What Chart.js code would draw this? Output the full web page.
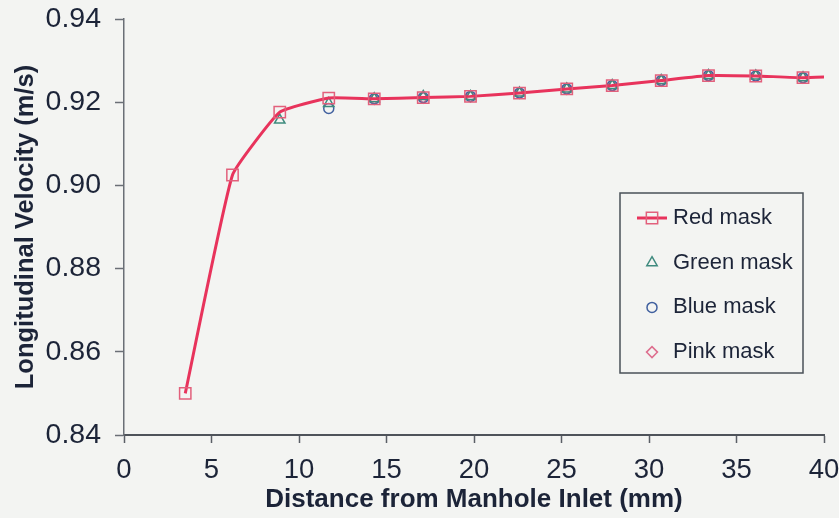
<!DOCTYPE html>
<html>
<head>
<meta charset="utf-8">
<title>Longitudinal velocity along the manhole</title>
<script src="https://cdn.jsdelivr.net/npm/chart.js@4.4.1/dist/chart.umd.min.js"></script>
<style>
    html, body { margin: 0; padding: 0; background: #f3f4f2; }
    #wrap { width: 839px; height: 518px; }
</style>
</head>
<body>
<div id="wrap"><canvas id="velocityChart" width="839" height="518"></canvas></div>
<script>
// distance from the manhole inlet (mm) for each measuring section
const distance = [3.5, 6.2, 8.9, 11.7, 14.3, 17.1, 19.8, 22.6, 25.3, 27.9, 30.7, 33.4, 36.1, 38.8, 41.5];

// longitudinal velocity (m/s) per mask colour
const redMask   = [0.8500, 0.9025, 0.9176, 0.9210, 0.9208, 0.9211, 0.9214, 0.9222, 0.9232, 0.9240, 0.9252, 0.9264, 0.9263, 0.9259, 0.9263];
const greenMask = [null, null, 0.9157, 0.9197, 0.9208, 0.9214, 0.9214, 0.9222, 0.9232, 0.9240, 0.9252, 0.9264, 0.9263, 0.9259, null];
const blueMask  = [null, null, null, 0.9185, 0.9208, 0.9211, 0.9214, 0.9222, 0.9232, 0.9240, 0.9252, 0.9264, 0.9263, 0.9259, null];
const pinkMask  = [null, null, null, null, 0.9208, 0.9211, 0.9214, 0.9222, 0.9232, 0.9240, 0.9252, 0.9264, 0.9263, 0.9259, null];

const seriesLabels = ['Red mask', 'Green mask', 'Blue mask', 'Pink mask'];
const xTicks = [0, 5, 10, 15, 20, 25, 30, 35, 40];
const yTicks = [0.84, 0.86, 0.88, 0.90, 0.92, 0.94];

const FONT = '"Liberation Sans", Arial, sans-serif';
const INK = '#1c2438';
const PAPER = '#f3f4f2';

function toPoints(values) {
    return distance.map((d, i) => ({ x: d, y: values[i] })).filter(p => p.y !== null);
}

// legend drawn as a framed box inside the plot area
const boxLegend = {
    id: 'boxLegend',
    afterDraw(chart, args, opts) {
        const ctx = chart.ctx;
        const area = chart.chartArea;
        const left = area.right - opts.right - opts.width;
        const top = area.top + opts.top;
        ctx.save();
        ctx.fillStyle = PAPER;
        ctx.fillRect(left, top, opts.width, opts.height);
        ctx.strokeStyle = '#4a5058';
        ctx.lineWidth = 1.5;
        ctx.strokeRect(left, top, opts.width, opts.height);

        chart.data.datasets.forEach((ds, i) => {
            const y = top + opts.firstRow + i * opts.rowGap;
            const sx = left + opts.symbolX;
            if (ds.showLine) {
                ctx.strokeStyle = ds.borderColor;
                ctx.lineWidth = ds.borderWidth;
                ctx.beginPath();
                ctx.moveTo(sx - 15, y);
                ctx.lineTo(sx + 15, y);
                ctx.stroke();
            }
            ctx.strokeStyle = ds.pointBorderColor;
            ctx.fillStyle = 'rgba(0,0,0,0)';
            ctx.lineWidth = ds.pointBorderWidth;
            Chart.helpers.drawPoint(ctx, {
                pointStyle: ds.pointStyle,
                radius: ds.pointRadius,
                borderWidth: ds.pointBorderWidth,
                rotation: 0
            }, sx, y);

            ctx.font = opts.fontSize + 'px ' + FONT;
            ctx.textBaseline = 'middle';
            ctx.textAlign = 'left';
            ctx.fillStyle = INK;
            ctx.fillText(ds.label, left + opts.textX, y);
        });
        ctx.restore();
    }
};

function renderChart() {
    const ctx = document.getElementById('velocityChart').getContext('2d');

    const datasets = [
        {
            label: seriesLabels[0],
            data: toPoints(redMask),
            showLine: true,
            borderColor: '#e8335c',
            borderWidth: 3,
            tension: 0.12,
            pointStyle: 'rect',
            pointRadius: 8,
            pointBorderWidth: 1.5,
            pointBorderColor: '#e2607c',
            pointBackgroundColor: 'rgba(0,0,0,0)'
        },
        {
            label: seriesLabels[1],
            data: toPoints(greenMask),
            showLine: false,
            pointStyle: 'triangle',
            pointRadius: 6,
            pointBorderWidth: 1.5,
            pointBorderColor: '#3e8a7e',
            pointBackgroundColor: 'rgba(0,0,0,0)'
        },
        {
            label: seriesLabels[2],
            data: toPoints(blueMask),
            showLine: false,
            pointStyle: 'circle',
            pointRadius: 5,
            pointBorderWidth: 1.5,
            pointBorderColor: '#40609f',
            pointBackgroundColor: 'rgba(0,0,0,0)'
        },
        {
            label: seriesLabels[3],
            data: toPoints(pinkMask),
            showLine: false,
            pointStyle: 'rectRot',
            pointRadius: 5.5,
            pointBorderWidth: 1.5,
            pointBorderColor: '#de6e8e',
            pointBackgroundColor: 'rgba(0,0,0,0)'
        }
    ];

    new Chart(ctx, {
        type: 'scatter',
        data: { datasets: datasets },
        plugins: [boxLegend],
        options: {
            responsive: false,
            animation: false,
            layout: { padding: { top: 19, right: 15, left: 0, bottom: 0 } },
            plugins: {
                legend: { display: false },
                tooltip: { enabled: false },
                boxLegend: {
                    right: 21, top: 174, width: 183, height: 180,
                    firstRow: 25, rowGap: 44.7, symbolX: 32, textX: 53, fontSize: 22
                }
            },
            scales: {
                x: {
                    type: 'linear',
                    min: 0,
                    max: 40,
                    afterFit: (scale) => {
                        scale.height = 83;
                        scale.paddingLeft = 0;
                        scale.paddingRight = 0;
                    },
                    afterBuildTicks: (scale) => { scale.ticks = xTicks.map(v => ({ value: v })); },
                    ticks: {
                        font: { family: FONT, size: 27.5 },
                        color: INK,
                        padding: 11,
                        maxRotation: 0
                    },
                    grid: {
                        drawOnChartArea: false,
                        tickLength: 8,
                        tickColor: '#5a5f66',
                        tickWidth: 1.5
                    },
                    border: { color: '#4e535a', width: 2 },
                    title: {
                        display: true,
                        text: 'Distance from Manhole Inlet (mm)',
                        font: { family: FONT, size: 26, weight: 'bold' },
                        color: INK,
                        padding: { top: 0, bottom: 3 }
                    }
                },
                y: {
                    type: 'linear',
                    min: 0.84,
                    max: 0.94,
                    afterFit: (scale) => {
                        scale.width = 124;
                        scale.paddingTop = 0;
                        scale.paddingBottom = 0;
                    },
                    afterBuildTicks: (scale) => { scale.ticks = yTicks.map(v => ({ value: v })); },
                    ticks: {
                        font: { family: FONT, size: 28.5 },
                        color: INK,
                        padding: 14,
                        callback: (v) => v.toFixed(2)
                    },
                    grid: {
                        drawOnChartArea: false,
                        tickLength: 9,
                        tickColor: '#6a6f76',
                        tickWidth: 1.5
                    },
                    border: { color: '#6a6f76', width: 1.5 },
                    title: {
                        display: true,
                        text: 'Longitudinal Velocity (m/s)',
                        font: { family: FONT, size: 25.5, weight: 'bold' },
                        color: INK,
                        padding: { top: 11, bottom: 0 }
                    }
                }
            }
        }
    });
}

document.addEventListener('DOMContentLoaded', renderChart);
</script>
</body>
</html>
